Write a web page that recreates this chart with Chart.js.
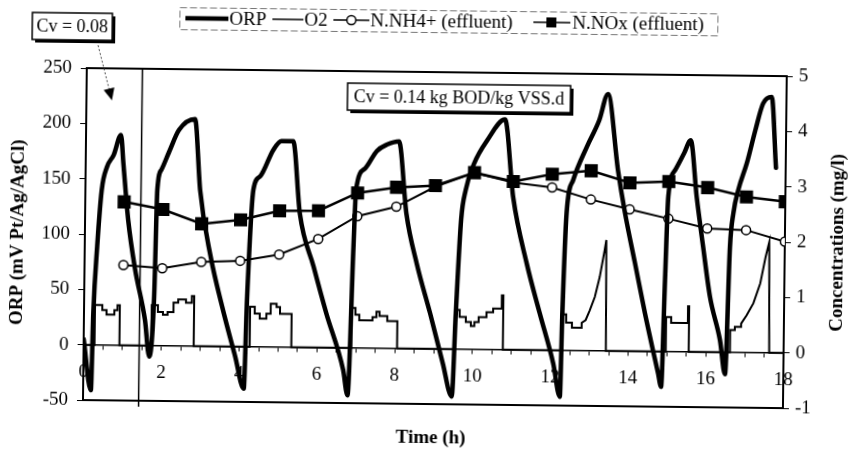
<!DOCTYPE html>
<html>
<head>
<meta charset="utf-8">
<script src="https://cdn.jsdelivr.net/npm/chart.js@4"></script>
<style>
  html, body { margin: 0; padding: 0; background: #fff; overflow: hidden; }
  #c { display: block; transform: rotate(0.66deg); }
</style>
</head>
<body>
<canvas id="c" width="850" height="454"></canvas>
<script>
// ORP trace (h, mV)
const ORP_T = [0, 0.2, 0.24, 0.32, 0.42, 0.55, 0.72, 0.9, 0.97, 1.11, 1.3, 1.57, 1.69,
  1.8, 1.85, 1.95, 2.14, 2.39, 2.8, 2.95, 3.24, 3.55, 3.9, 4.13,
  4.19, 4.32, 4.49, 4.82, 5.03, 5.33, 5.52, 5.89, 6.23, 6.68, 6.8,
  6.91, 6.96, 7.18, 7.48, 7.74, 8.05, 8.26, 8.54, 8.9, 9.24, 9.48,
  9.56, 9.67, 9.78, 9.99, 10.32, 10.77, 11.0, 11.37, 11.72, 12.08, 12.26,
  12.3, 12.38, 12.54, 12.88, 13.19, 13.41, 13.69, 13.88, 14.15, 14.42, 14.78, 14.86,
  14.93, 14.99, 15.16, 15.38, 15.55, 15.72, 15.9, 16.09, 16.36, 16.5,
  16.59, 16.67, 16.79, 17.0, 17.21, 17.4, 17.62, 17.75];
const ORP_MV = [5, -41, 29, 89, 140, 161, 172, 190, 164, 113, 69, 23, -10,
  45, 141, 159, 175, 195, 205, 141, 81, 36, -9, -38,
  45, 142, 154, 178, 186, 186, 121, 73, 31, -20, -43,
  92, 143, 162, 178, 184, 187, 122, 77, 32, -13, -43,
  32, 117, 144, 168, 189, 208, 138, 78, 33, -12, -42,
  33, 124, 154, 184, 208, 232, 163, 125, 80, 35, -20, -32,
  64, 140, 164, 179, 191, 140, 95, 50, 11, -20,
  95, 126, 147, 171, 201, 225, 231, 167];

// O2 trace (h, mg/l), steps written out corner by corner
const O2_T = [0,
  0.28, 0.28, 0.47, 0.47, 0.58, 0.58, 0.78, 0.78, 0.86, 0.86, 0.92, 0.92,
  1.74, 1.74, 1.9, 1.9, 2.03, 2.03, 2.15, 2.15, 2.3, 2.3, 2.42, 2.42, 2.62, 2.62, 2.77, 2.77, 2.83, 2.83,
  4.27, 4.27, 4.39, 4.39, 4.52, 4.52, 4.69, 4.69, 4.8, 4.8, 4.95, 4.95, 5.04, 5.04, 5.34, 5.34,
  6.88, 6.88, 6.98, 6.98, 7.08, 7.08, 7.42, 7.42, 7.52, 7.52, 7.6, 7.6, 7.8, 7.8, 8.06, 8.06,
  9.54, 9.54, 9.66, 9.66, 9.82, 9.82, 9.95, 9.95, 10.04, 10.04, 10.15, 10.15, 10.35, 10.35, 10.52, 10.52, 10.74, 10.74, 10.78, 10.78,
  12.28, 12.28, 12.4, 12.4, 12.55, 12.55, 12.8, 12.8, 12.9, 13.0, 13.13, 13.25, 13.37, 13.41, 13.43,
  14.97, 14.97, 15.1, 15.1, 15.53, 15.53, 15.56, 15.56,
  16.62, 16.62, 16.74, 16.74, 16.9, 16.9, 17.04, 17.21, 17.38, 17.51, 17.6, 17.63, 18];
const O2_MG = [0,
  0, 0.72, 0.72, 0.63, 0.63, 0.55, 0.55, 0.63, 0.63, 0.72, 0.72, 0,
  0, 0.73, 0.73, 0.61, 0.61, 0.56, 0.56, 0.61, 0.61, 0.78, 0.78, 0.84, 0.84, 0.78, 0.78, 0.9, 0.9, 0,
  0, 0.72, 0.72, 0.6, 0.6, 0.51, 0.51, 0.6, 0.6, 0.78, 0.78, 0.72, 0.72, 0.6, 0.6, 0,
  0, 0.72, 0.72, 0.6, 0.6, 0.5, 0.5, 0.56, 0.56, 0.66, 0.66, 0.58, 0.58, 0.49, 0.49, 0,
  0, 0.71, 0.71, 0.58, 0.58, 0.49, 0.49, 0.42, 0.42, 0.49, 0.49, 0.58, 0.58, 0.67, 0.67, 0.74, 0.74, 0.98, 0.98, 0,
  0, 0.65, 0.65, 0.5, 0.5, 0.41, 0.41, 0.5, 0.55, 0.72, 0.97, 1.33, 1.82, 2.0, 0,
  0, 0.62, 0.62, 0.52, 0.52, 0.82, 0.82, 0,
  0, 0.4, 0.4, 0.46, 0.46, 0.52, 0.67, 0.89, 1.25, 1.73, 2.0, 0, 0];

// effluent samples, hourly (mg/l)
const SAMPLE_H = [1, 2, 3, 4, 5, 6, 7, 8, 9, 10, 11, 12, 13, 14, 15, 16, 17, 18];
const NH4 = [1.45, 1.40, 1.52, 1.55, 1.67, 1.96, 2.38, 2.56, 2.93, 3.19, 3.02, 2.94, 2.73, 2.56, 2.40, 2.23, 2.21, 2.01];
const NOX = [2.59, 2.46, 2.21, 2.29, 2.46, 2.47, 2.80, 2.91, 2.95, 3.19, 3.04, 3.18, 3.25, 3.04, 3.07, 2.97, 2.81, 2.73];

const SPLIT_H = 1.43; // change of loading rate
const SERIF = "'Liberation Serif', 'Times New Roman', serif";

const pts = (xs, ys) => xs.map((x, i) => ({ x, y: ys[i] }));

const decor = {
  id: "decor",
  beforeDatasetsDraw(chart) {
    const { ctx, chartArea: a, scales } = chart;
    ctx.save();
    ctx.strokeStyle = "#000";
    ctx.lineWidth = 2;
    ctx.beginPath();
    ctx.moveTo(a.left, a.top); ctx.lineTo(a.right, a.top);
    ctx.moveTo(a.left, a.bottom); ctx.lineTo(a.right, a.bottom);
    ctx.stroke();
    const sx = scales.x.getPixelForValue(SPLIT_H);
    ctx.lineWidth = 1.5;
    ctx.beginPath(); ctx.moveTo(sx, a.top); ctx.lineTo(sx, a.bottom + 6); ctx.stroke();
    ctx.restore();
  },
  afterDraw(chart) {
    const { ctx } = chart;
    ctx.save();
    ctx.fillStyle = "#000";
    ctx.strokeStyle = "#000";

    // legend
    ctx.setLineDash([7, 3]);
    ctx.lineWidth = 1;
    ctx.strokeStyle = "#777";
    ctx.strokeRect(177.5, 10.5, 538, 22);
    ctx.setLineDash([]);
    ctx.strokeStyle = "#000";
    ctx.font = "19px " + SERIF;
    ctx.textBaseline = "middle";
    ctx.textAlign = "left";
    const ly = 21;
    const line = (x1, x2, w) => { ctx.lineWidth = w; ctx.beginPath(); ctx.moveTo(x1, ly); ctx.lineTo(x2, ly); ctx.stroke(); };
    line(183, 226, 4.5); ctx.fillText("ORP", 227, ly + 1);
    line(270, 301, 1.5); ctx.fillText("O2", 302, ly + 1);
    line(331, 367, 1.5);
    ctx.beginPath(); ctx.arc(349, ly, 4.5, 0, Math.PI * 2); ctx.fillStyle = "#fff"; ctx.fill();
    ctx.lineWidth = 1.5; ctx.stroke(); ctx.fillStyle = "#000";
    ctx.fillText("N.NH4+ (effluent)", 368, ly + 1);
    line(531, 568, 1.5);
    ctx.fillRect(544, ly - 5, 10, 10);
    ctx.fillText("N.NOx (effluent)", 570, ly + 1);

    // annotation boxes
    const box = (x, y, w, h, text) => {
      ctx.fillStyle = "#000";
      ctx.fillRect(x + 3, y + 3, w, h);
      ctx.fillStyle = "#fff";
      ctx.fillRect(x, y, w, h);
      ctx.lineWidth = 1.5;
      ctx.strokeRect(x, y, w, h);
      ctx.fillStyle = "#000";
      ctx.font = "18px " + SERIF;
      ctx.textAlign = "center";
      ctx.fillText(text, x + w / 2, y + h / 2 + 1);
    };
    box(30, 17, 80, 27, "Cv = 0.08");
    box(346, 84, 223, 27, "Cv = 0.14 kg BOD/kg VSS.d");

    // arrow from the first box
    const x0 = 96, y0 = 49, x1 = 110.5, y1 = 104;
    const ang = Math.atan2(y1 - y0, x1 - x0);
    ctx.strokeStyle = "#444";
    ctx.lineWidth = 1;
    ctx.setLineDash([2, 2]);
    ctx.beginPath(); ctx.moveTo(x0, y0); ctx.lineTo(x1 - 10 * Math.cos(ang), y1 - 10 * Math.sin(ang)); ctx.stroke();
    ctx.setLineDash([]);
    ctx.beginPath();
    ctx.moveTo(x1, y1);
    ctx.lineTo(x1 - 12 * Math.cos(ang) + 5.5 * Math.sin(ang), y1 - 12 * Math.sin(ang) - 5.5 * Math.cos(ang));
    ctx.lineTo(x1 - 12 * Math.cos(ang) - 5.5 * Math.sin(ang), y1 - 12 * Math.sin(ang) + 5.5 * Math.cos(ang));
    ctx.closePath();
    ctx.fill();

    // axis titles
    ctx.font = "bold 19px " + SERIF;
    ctx.textAlign = "center";
    ctx.fillText("Time (h)", 433, 438);
    ctx.save(); ctx.translate(18, 237); ctx.rotate(-Math.PI / 2);
    ctx.fillText("ORP (mV Pt/Ag/AgCl)", 0, 0); ctx.restore();
    ctx.save(); ctx.translate(838, 238); ctx.rotate(-Math.PI / 2);
    ctx.fillText("Concentrations (mg/l)", 0, 0); ctx.restore();

    ctx.restore();
  },
};

const tickFont = { family: SERIF, size: 19 };

new Chart(document.getElementById("c"), {
  type: "line",
  data: {
    datasets: [
      { label: "O2", data: pts(O2_T, O2_MG), yAxisID: "y2", borderColor: "#000", borderWidth: 2, pointRadius: 0, tension: 0, order: 3 },
      { label: "N.NH4+ (effluent)", data: pts(SAMPLE_H, NH4), yAxisID: "y2", borderColor: "#000", borderWidth: 2,
        pointRadius: 4.5, pointBorderWidth: 1.5, pointBackgroundColor: "#fff", pointBorderColor: "#000", tension: 0, order: 2 },
      { label: "N.NOx (effluent)", data: pts(SAMPLE_H, NOX), yAxisID: "y2", borderColor: "#000", borderWidth: 2.5,
        pointStyle: "rect", pointRadius: 7.5, pointBackgroundColor: "#000", pointBorderColor: "#000", tension: 0, order: 1 },
      { label: "ORP", data: pts(ORP_T, ORP_MV), yAxisID: "y", borderColor: "#000", borderWidth: 4.5,
        pointRadius: 0, cubicInterpolationMode: "monotone", borderCapStyle: "round", borderJoinStyle: "round", order: 0 },
    ],
  },
  options: {
    responsive: false,
    animation: false,
    devicePixelRatio: 1,
    layout: { padding: { top: 72, bottom: 50, left: 0, right: 0 } },
    plugins: { legend: { display: false }, tooltip: { enabled: false } },
    scales: {
      x: {
        type: "linear", min: 0, max: 18,
        position: { y: 0 },
        grid: { drawOnChartArea: false, drawTicks: true, tickLength: 4, color: "#000", lineWidth: 1 },
        border: { color: "#000", width: 1.5 },
        ticks: {
          stepSize: 0.5, autoSkip: false, maxRotation: 0, color: "#000", font: tickFont, padding: 12,
          callback: (v) => (v % 2 === 0 ? String(v) : ""),
        },
      },
      y: {
        position: "left", min: -50, max: 250,
        grid: { drawOnChartArea: false, tickLength: 6, color: "#000" },
        border: { color: "#000", width: 2 },
        ticks: { stepSize: 50, color: "#000", font: tickFont, padding: 9 },
        afterFit: (s) => { s.width = 85; },
      },
      y2: {
        position: "right", min: -1, max: 5,
        grid: { drawOnChartArea: false, tickLength: 6, color: "#000" },
        border: { color: "#000", width: 2 },
        ticks: { stepSize: 1, color: "#000", font: tickFont, padding: 6 },
        afterFit: (s) => { s.width = 65; },
      },
    },
  },
  plugins: [decor],
});
</script>
</body>
</html>
